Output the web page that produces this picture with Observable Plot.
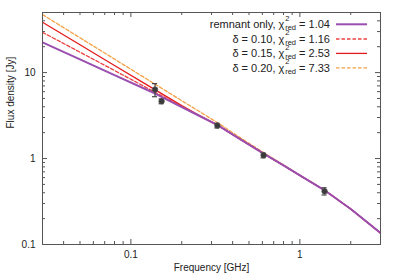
<!DOCTYPE html>
<html>
<head>
<meta charset="utf-8">
<script src="https://cdn.jsdelivr.net/npm/d3@7"></script>
<script src="https://cdn.jsdelivr.net/npm/@observablehq/plot@0.6"></script>
<style>
  html, body { margin: 0; padding: 0; background: #fff; }
</style>
</head>
<body>
<div id="chart"></div>
<script>
// ---- data ----
const freqs    = [0.03, 0.05, 0.08, 0.131, 0.2, 0.25, 0.326, 0.45, 0.607, 0.8, 1.0, 1.393, 2.0, 3.0];
const remnant  = [22.5, 14.24, 9.35, 6.03, 3.97, 3.19, 2.45, 1.65, 1.15, 0.831, 0.638, 0.430, 0.259, 0.136];
const delta010 = [29.4, 17.27, 10.58, 6.29, 4.05, 3.19, 2.45, 1.65, 1.15, 0.831, 0.638, 0.430, 0.259, 0.136];
const delta015 = [38.5, 21.05, 12.09, 6.77, 4.13, 3.23, 2.45, 1.65, 1.15, 0.831, 0.638, 0.430, 0.259, 0.136];
const delta020 = [47.3, 25.4, 14.35, 7.88, 4.71, 3.60, 2.61, 1.72, 1.18, 0.845, 0.638, 0.430, 0.259, 0.136];

const obsFreq = [0.139, 0.152, 0.325, 0.61, 1.4];
const obsFlux = [6.34, 4.64, 2.42, 1.09, 0.417];
const obsErr  = [1.1, 0.3, 0.15, 0.07, 0.04];

const seriesNames = ["remnant only, ", "δ = 0.10, ", "δ = 0.15, ", "δ = 0.20, "];
const chiRed      = ["1.04", "1.16", "2.53", "7.33"];
const seriesColors = ["#9a4fb0", "#ec4040", "#e41a1c", "#f5a043"];
const seriesDash   = [null, "3.5,2", null, "3.5,2"];
const seriesWidth  = [2, 1.3, 1.3, 1.3];

const xMajor = [0.1, 1];
const xMinor = [0.04, 0.05, 0.06, 0.07, 0.08, 0.09, 0.2, 0.3, 0.4, 0.5, 0.6, 0.7, 0.8, 0.9, 2, 3];
const yMajor = [0.1, 1, 10];
const yMinor = [0.2, 0.3, 0.4, 0.5, 0.6, 0.7, 0.8, 0.9, 2, 3, 4, 5, 6, 7, 8, 9, 20, 30, 40];

// ---- build tables ----
const seriesValues = [remnant, delta010, delta015, delta020];
const curves = seriesValues.map((vals, s) => freqs.map((f, i) => ({nu: f, S: vals[i], s})));
const obs = obsFreq.map((f, i) => ({nu: f, S: obsFlux[i], e: obsErr[i]}));

const W = 399, H = 279;
const mL = 42, mR = 19, mT = 12, mB = 35;
const fw = W - mL - mR, fh = H - mT - mB;
const major = 5, minor = 3;
const axisColor = "#555";

const drawOrder = [3, 2, 1, 0];

const svg = Plot.plot({
  width: W,
  height: H,
  marginLeft: mL, marginRight: mR, marginTop: mT, marginBottom: mB,
  style: {fontFamily: "'Liberation Sans', Arial, sans-serif", fontSize: "10px", background: "#fff", color: "#222"},
  x: {type: "log", domain: [0.03, 3], axis: null},
  y: {type: "log", domain: [0.1, 50], axis: null},
  marks: [
    // ticks (inward, mirrored)
    Plot.ruleX(xMajor, {x: d => d, insetTop: fh - major, stroke: axisColor}),
    Plot.ruleX(xMajor, {x: d => d, insetBottom: fh - major, stroke: axisColor}),
    Plot.ruleX(xMinor, {x: d => d, insetTop: fh - minor, stroke: axisColor}),
    Plot.ruleX(xMinor, {x: d => d, insetBottom: fh - minor, stroke: axisColor}),
    Plot.ruleY(yMajor, {y: d => d, insetRight: fw - major, stroke: axisColor}),
    Plot.ruleY(yMajor, {y: d => d, insetLeft: fw - major, stroke: axisColor}),
    Plot.ruleY(yMinor, {y: d => d, insetRight: fw - minor, stroke: axisColor}),
    Plot.ruleY(yMinor, {y: d => d, insetLeft: fw - minor, stroke: axisColor}),
    // tick labels
    Plot.axisX({ticks: xMajor, tickSize: 0, tickPadding: 6, tickFormat: d => String(d), label: null, fill: "#222"}),
    Plot.axisY({ticks: yMajor, tickSize: 0, tickPadding: 7, tickFormat: d => String(d), label: null, fill: "#222"}),
    // axis titles
    Plot.text(["Frequency [GHz]"], {frameAnchor: "bottom", dy: 26, fill: "#222", fontSize: 10}),
    Plot.text(["Flux density [Jy]"], {frameAnchor: "left", rotate: -90, dx: -32, fill: "#222", fontSize: 10}),
    // model curves
    ...drawOrder.map(s => Plot.line(curves[s], {
      x: "nu", y: "S",
      stroke: seriesColors[s],
      strokeWidth: seriesWidth[s],
      strokeDasharray: seriesDash[s],
      clip: true
    })),
    // observations with error bars
    Plot.ruleX(obs, {x: "nu", y1: d => d.S - d.e, y2: d => d.S + d.e, stroke: "#444", strokeWidth: 1.2}),
    Plot.ruleY(obs, {y: d => d.S - d.e, x1: d => d.nu / 1.035, x2: d => d.nu * 1.035, stroke: "#444", strokeWidth: 1.2}),
    Plot.ruleY(obs, {y: d => d.S + d.e, x1: d => d.nu / 1.035, x2: d => d.nu * 1.035, stroke: "#444", strokeWidth: 1.2}),
    Plot.dot(obs, {x: "nu", y: "S", r: 2.8, fill: "#3a3a3a", stroke: "#555", strokeWidth: 0.6}),
    Plot.frame({stroke: axisColor, strokeWidth: 1})
  ]
});

// ---- legend (inside top-right) ----
const leg = d3.select(svg).append("g")
  .attr("font-family", "'Liberation Sans', Arial, sans-serif")
  .attr("font-size", 11)
  .attr("fill", "#222");
const rowY = [24.3, 39, 53.4, 67.8];
seriesNames.forEach((name, i) => {
  const y = rowY[i];
  const t = leg.append("text").attr("x", 330).attr("y", y + 3.9).attr("text-anchor", "end");
  t.append("tspan").text(name + "χ");
  t.append("tspan").attr("dx", 0.8).attr("dy", -7.5).attr("font-size", 7.5).text("2");
  t.append("tspan").attr("dx", -4.17).attr("dy", 9.5).attr("font-size", 7.5).text("red");
  t.append("tspan").attr("dy", -2).text(" = " + chiRed[i]);
  leg.append("line")
    .attr("x1", 336).attr("x2", 367).attr("y1", y).attr("y2", y)
    .attr("stroke", seriesColors[i])
    .attr("stroke-width", seriesWidth[i])
    .attr("stroke-dasharray", seriesDash[i]);
});

document.getElementById("chart").appendChild(svg);
</script>
</body>
</html>
